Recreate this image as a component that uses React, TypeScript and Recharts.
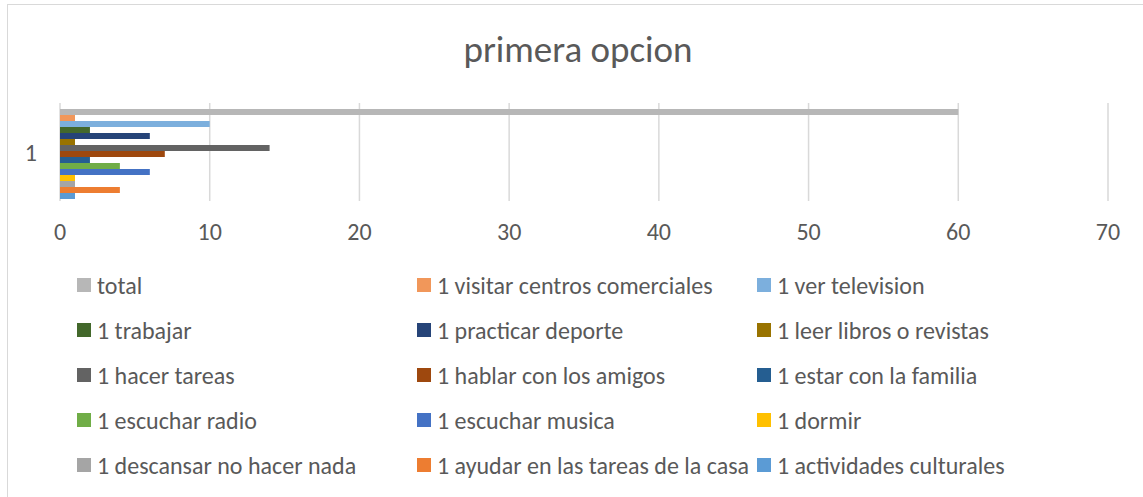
import { BarChart, Bar, XAxis, YAxis, CartesianGrid } from "recharts";

const categories = ["1"];

const seriesNames = [
  "total",
  "1 visitar centros comerciales",
  "1 ver television",
  "1 trabajar",
  "1 practicar deporte",
  "1 leer libros o revistas",
  "1 hacer tareas",
  "1 hablar con los amigos",
  "1 estar con la familia",
  "1 escuchar radio",
  "1 escuchar musica",
  "1 dormir",
  "1 descansar no hacer nada",
  "1 ayudar en las tareas de la casa",
  "1 actividades culturales",
];

const seriesValues = [60, 1, 10, 2, 6, 1, 14, 7, 2, 4, 6, 1, 1, 4, 1];

const seriesColors = [
  "#B7B7B7",
  "#F1975A",
  "#7CAFDD",
  "#43682B",
  "#264478",
  "#997300",
  "#636363",
  "#9E480E",
  "#255E91",
  "#70AD47",
  "#4472C4",
  "#FFC000",
  "#A5A5A5",
  "#ED7D31",
  "#5B9BD5",
];

const xTicks = [0, 10, 20, 30, 40, 50, 60, 70];

const FONT = "Carlito, Calibri, 'Liberation Sans', sans-serif";
const TEXT = "#595959";

const data = categories.map((c) => {
  const row: Record<string, string | number> = { name: c };
  seriesNames.forEach((s, i) => {
    row["s" + i] = seriesValues[i];
  });
  return row;
});

export default function App() {
  return (
    <div
      style={{
        position: "absolute",
        left: 0,
        top: 0,
        width: 1143,
        height: 497,
        overflow: "hidden",
        fontFamily: FONT,
        background: "#fff",
      }}
    >
      <div
        style={{
          position: "absolute",
          left: 7,
          top: 4,
          width: 1160,
          height: 520,
          border: "1.5px solid #d9d9d9",
        }}
      />
      <div
        style={{
          position: "absolute",
          left: 0,
          width: 1156,
          top: 29,
          textAlign: "center",
          fontSize: 37,
          lineHeight: "42px",
          color: TEXT,
        }}
      >
        primera opcion
      </div>
      <div style={{ position: "absolute", left: 0, top: 0 }}>
        <BarChart
          width={1143}
          height={245}
          data={data}
          layout="vertical"
          margin={{ top: 103, right: 35, bottom: 0, left: 0 }}
          barCategoryGap={6}
          barGap={0}
        >
          <CartesianGrid
            horizontal={false}
            stroke="#d9d9d9"
            strokeWidth={1.5}
          />
          <XAxis
            type="number"
            domain={[0, 70]}
            ticks={xTicks}
            axisLine={false}
            tickLine={false}
            tickSize={0}
            tickMargin={22}
            height={44}
            tick={{ fill: TEXT, fontSize: 24, fontFamily: FONT }}
          />
          <YAxis
            type="category"
            dataKey="name"
            width={60}
            axisLine={false}
            tickLine={false}
            tickSize={0}
            tickMargin={23}
            tick={{ fill: TEXT, fontSize: 24, fontFamily: FONT }}
          />
          {seriesNames.map((s, i) => (
            <Bar
              key={s}
              dataKey={"s" + i}
              name={s}
              fill={seriesColors[i]}
              isAnimationActive={false}
            />
          ))}
        </BarChart>
      </div>
      {seriesNames.map((s, i) => {
        const col = i % 3;
        const row = Math.floor(i / 3);
        return (
          <div
            key={s}
            style={{
              position: "absolute",
              left: 77 + col * 340,
              top: 285 + row * 45 - 14,
              height: 28,
              display: "flex",
              alignItems: "center",
              whiteSpace: "nowrap",
              fontSize: 24,
              color: TEXT,
            }}
          >
            <span
              style={{
                display: "inline-block",
                width: 14,
                height: 14,
                background: seriesColors[i],
                marginRight: 6,
              }}
            />
            {s}
          </div>
        );
      })}
    </div>
  );
}
